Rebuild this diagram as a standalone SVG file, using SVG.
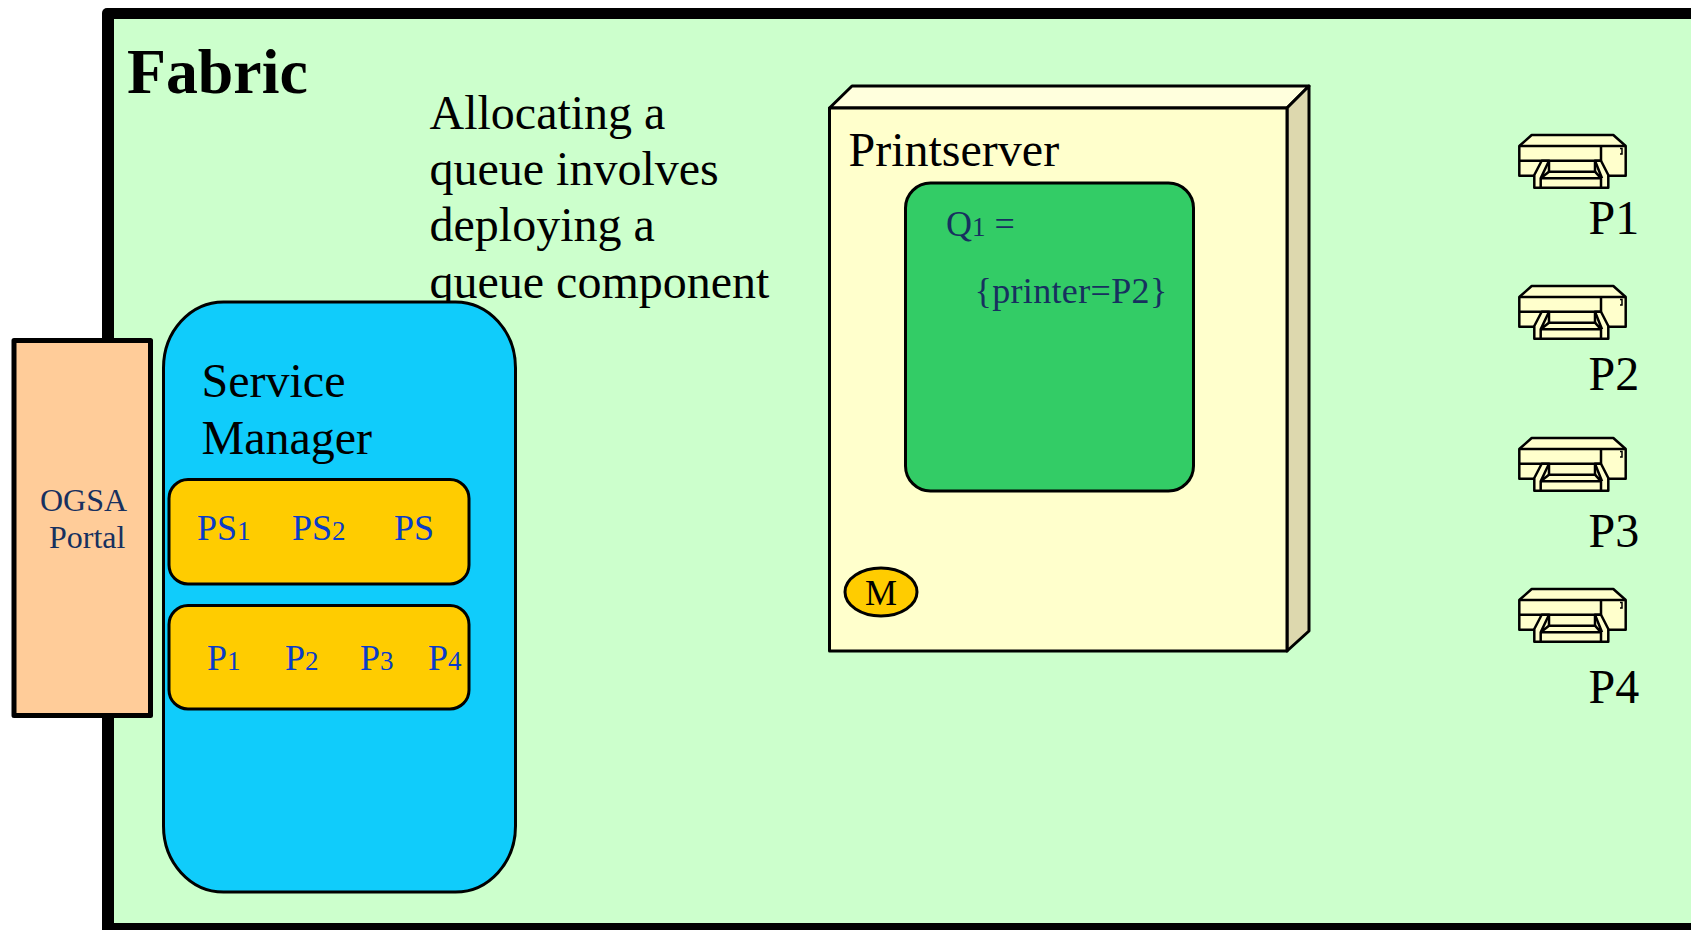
<svg xmlns="http://www.w3.org/2000/svg" width="1691" height="930" viewBox="0 0 1691 930">
<style>
text{font-family:"Liberation Serif","Times New Roman",serif;fill:#000}
.l{font-size:48px}
.b{font-size:36px;fill:#0a3cc8}
.d{font-size:36px;fill:#17305f}
.o{font-size:32px;fill:#17305f}
.s{font-size:27px}
.ln{stroke:#000;stroke-width:3;stroke-linejoin:round}
.pr{fill:#ffffcc;stroke:#000;stroke-width:2.5;stroke-linejoin:round}
.pl{fill:none;stroke:#000;stroke-width:2.5;stroke-linejoin:round}
</style>
<defs>
<g id="printer">
<path class="pr" d="M19.3 26L31.7 15H113.3L125.7 26V55.7H19.3Z"/>
<path class="pl" d="M19.3 26H125.7M101 26V40.7M19.3 40.7H101"/>
<path class="pr" d="M34.3 67.7V55L41.7 40.7H49V51.7H95V40.7H101L108.3 55V67.7Z"/>
<path class="pl" d="M49 40.7L40.7 58.3V67.7M40.7 58.3L49 51.7M40.7 58.3H101V67.7M95 51.7L101 58.3M95 40.7L102 58.3"/>
<path d="M120 28.5h2V34h-2" fill="none" stroke="#000" stroke-width="1.5"/>
</g>
</defs>
<rect width="1691" height="930" fill="#fff"/>
<g id="fabric">
<rect x="102" y="8" width="1700" height="940" rx="5" fill="#000"/>
<rect x="114" y="19" width="1600" height="904" fill="#ccffcc"/>
<text x="127" y="93" font-size="63.8" font-weight="bold">Fabric</text>
</g>
<g id="note">
<text class="l" x="429.5" y="129">Allocating a</text>
<text class="l" x="429.5" y="185">queue involves</text>
<text class="l" x="429.5" y="241">deploying a</text>
<text class="l" x="429.5" y="298">queue component</text>
</g>
<g id="service-manager">
<rect x="163.5" y="302" width="352" height="590" rx="60" ry="66" fill="#10ccfb" class="ln"/>
<text class="l" x="201.5" y="397">Service</text>
<text class="l" x="201.5" y="454">Manager</text>
</g>
<g id="portal">
<rect x="14" y="340.5" width="136.5" height="375" fill="#ffcc99" stroke="#000" stroke-width="5" stroke-linejoin="round"/>
<text class="o" x="40" y="511">OGSA</text>
<text class="o" x="49" y="548">Portal</text>
</g>
<g id="ps-list">
<rect x="169" y="479.5" width="300" height="104.5" rx="19" fill="#ffcc00" class="ln"/>
<text class="b" x="197" y="540">PS<tspan class="s">1</tspan></text>
<text class="b" x="292" y="540">PS<tspan class="s">2</tspan></text>
<text class="b" x="394" y="540">PS</text>
</g>
<g id="p-list">
<rect x="169" y="605.5" width="300" height="103.5" rx="19" fill="#ffcc00" class="ln"/>
<text class="b" x="207" y="670">P<tspan class="s">1</tspan></text>
<text class="b" x="285" y="670">P<tspan class="s">2</tspan></text>
<text class="b" x="360" y="670">P<tspan class="s">3</tspan></text>
<text class="b" x="428" y="670">P<tspan class="s">4</tspan></text>
</g>
<g id="printserver">
<path d="M829.5 108L852 86H1309L1287 108Z" fill="#ffffdd" class="ln"/>
<path d="M1287 108L1309 86V631L1287 651Z" fill="#ddd8ae" class="ln"/>
<rect x="829.5" y="108" width="457.5" height="543" fill="#ffffcc" class="ln"/>
<text class="l" x="848.5" y="166">Printserver</text>
</g>
<g id="queue">
<rect x="905.5" y="183" width="288" height="308" rx="25" fill="#33cc66" class="ln"/>
<text class="d" x="946" y="236">Q<tspan class="s">1</tspan> =</text>
<text class="d" x="974.5" y="303" letter-spacing="0.35">{printer=P2}</text>
</g>
<g id="manager">
<ellipse cx="881" cy="592" rx="36" ry="24" fill="#ffcc00" class="ln"/>
<text x="881" y="605" font-size="36" text-anchor="middle">M</text>
</g>
<g id="printer-1"><use href="#printer" x="1500" y="120"/><text class="l" x="1588.5" y="234">P1</text></g>
<g id="printer-2"><use href="#printer" x="1500" y="271"/><text class="l" x="1588.5" y="390">P2</text></g>
<g id="printer-3"><use href="#printer" x="1500" y="423"/><text class="l" x="1588.5" y="547">P3</text></g>
<g id="printer-4"><use href="#printer" x="1500" y="574"/><text class="l" x="1588.5" y="703">P4</text></g>
</svg>
